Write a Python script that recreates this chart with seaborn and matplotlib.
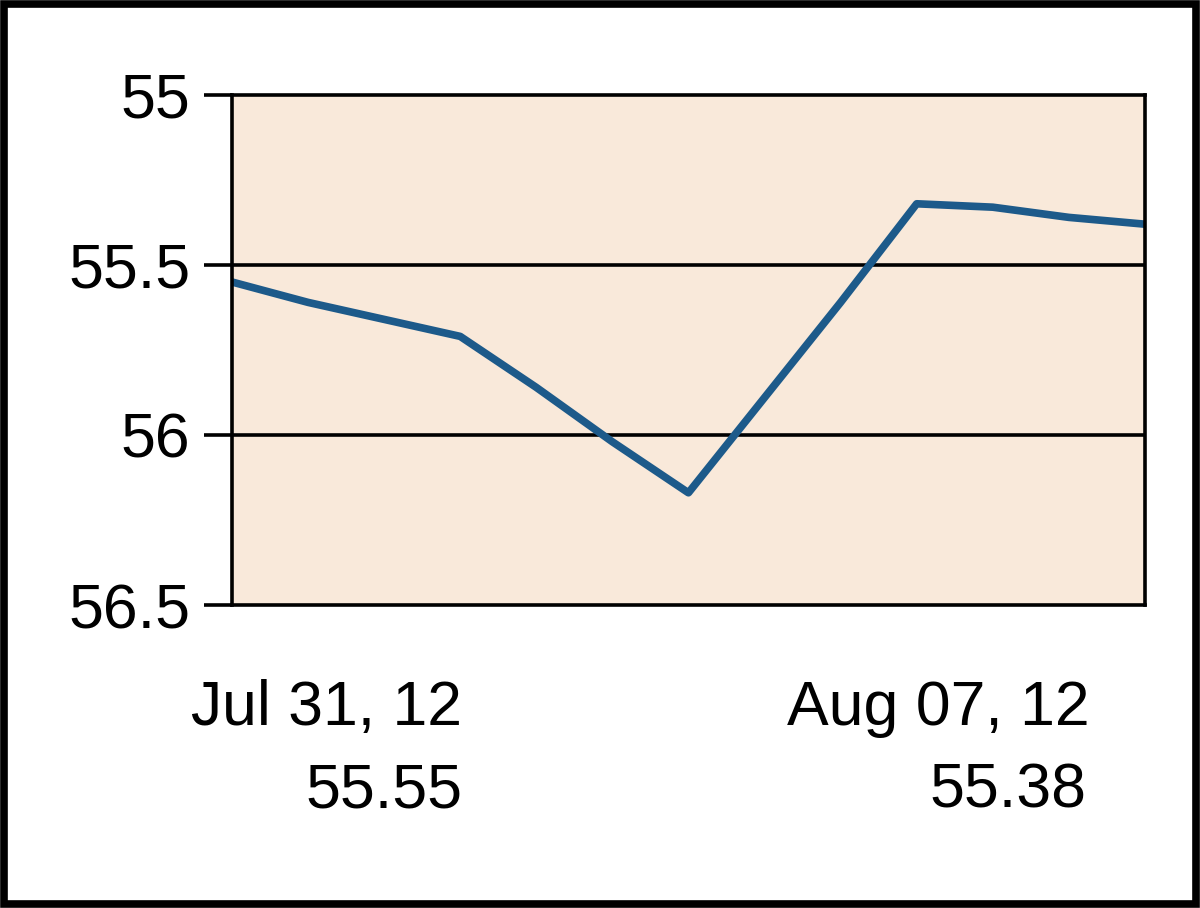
import matplotlib
matplotlib.use("Agg")
import matplotlib.pyplot as plt
import seaborn as sns
import pandas as pd
from matplotlib.patches import Rectangle

# price points, Jul 31 -> Aug 07
steps = list(range(13))
prices = [55.55, 55.61, 55.66, 55.71, 55.86, 56.02, 56.17,
          55.89, 55.61, 55.32, 55.33, 55.36, 55.38]
y_ticks = [55, 55.5, 56, 56.5]
y_labels = ["55", "55.5", "56", "56.5"]
start_label = ["Jul 31, 12", "55.55"]
end_label = ["Aug 07, 12", "55.38"]

df = pd.DataFrame({"step": steps, "price": prices})

sns.set_theme(style="white")
plt.rcParams["font.family"] = ["Liberation Sans Narrow", "Liberation Sans", "DejaVu Sans"]
plt.rcParams["text.color"] = "black"
plt.rcParams["ytick.color"] = "black"

fig = plt.figure(figsize=(12, 9.08), dpi=100)
ax = fig.add_axes([0.1933, 0.3337, 0.7608, 0.5617])
ax.set_facecolor("#f9e9da")

sns.lineplot(data=df, x="step", y="price", ax=ax, color="#1d5a8a", linewidth=5.5)

ax.set_xlim(steps[0], steps[-1])
ax.set_ylim(56.5, 55)
ax.set_yticks(y_ticks)
ax.set_yticklabels(y_labels, fontsize=45)
ax.set_xticks([])
ax.set_xlabel("")
ax.set_ylabel("")
ax.tick_params(axis="y", length=20, width=2.6, color="black", pad=10, left=True)
for s in ax.spines.values():
    s.set_color("black")
    s.set_linewidth(2.6)
for v in y_ticks[1:-1]:
    ax.axhline(v, color="black", linewidth=2.6, zorder=1)

# labels under the plot
fig.text(462 / 1200, 1 - 725 / 908, start_label[0], ha="right", va="baseline", fontsize=45)
fig.text(462 / 1200, 1 - 808 / 908, start_label[1], ha="right", va="baseline", fontsize=45)
fig.text(1090 / 1200, 1 - 725 / 908, end_label[0], ha="right", va="baseline", fontsize=45)
fig.text(1086 / 1200, 1 - 808 / 908, end_label[1], ha="right", va="baseline", fontsize=45)

# outer frame
fig.patches.append(Rectangle((0.003, 0.004), 0.994, 0.992, transform=fig.transFigure,
                             fill=False, edgecolor="black", linewidth=5.5))

fig.savefig("out.png", dpi=100)
